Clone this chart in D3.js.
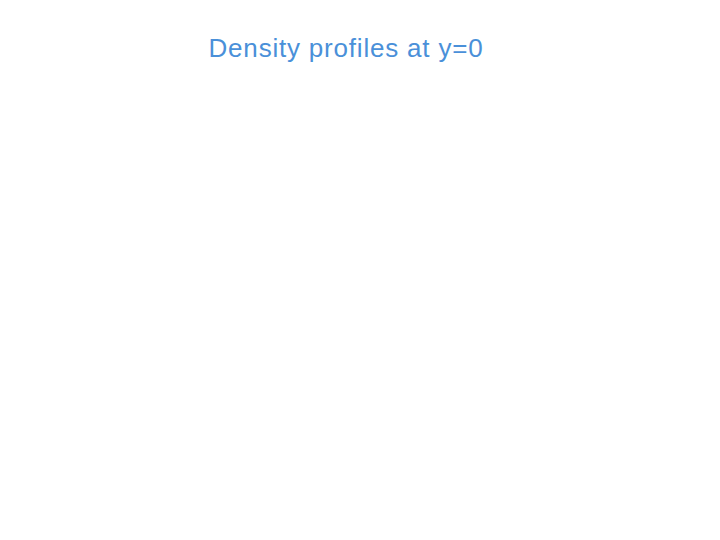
<!DOCTYPE html>
<html lang="en">
<meta charset="utf-8">
<style type="text/css">
  body { margin: 0; background: #fff; }
</style>
<script src="https://d3js.org/d3.v7.min.js"></script>
<body>
<div id="chart"></div>
<script type="text/javascript">
  // Chart size
  var w = 720;
  var h = 540;

  // the reference shows no profiles, only the title
  var title = "Density profiles at y=0";
  var series = [];

  var svg = d3.select("#chart").append("svg")
      .attr("width", w)
      .attr("height", h);

  svg.append("rect")
      .attr("width", w)
      .attr("height", h)
      .attr("fill", "white");

  svg.append("text")
      .attr("x", 346)
      .attr("y", 57)
      .attr("text-anchor", "middle")
      .style("font-family", "'Liberation Sans', Arial, sans-serif")
      .style("font-size", "26px")
      .style("letter-spacing", "0.8px")
      .style("fill", "#4a90d9")
      .text(title);
</script>
</body>
</html>
